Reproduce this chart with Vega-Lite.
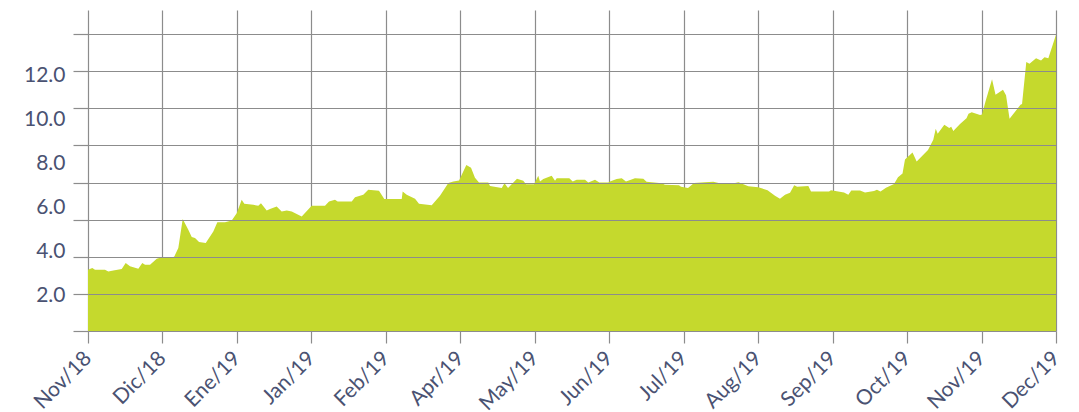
{
  "$schema": "https://vega.github.io/schema/vega-lite/v6.json",
  "width": 968,
  "height": 321,
  "autosize": {"type": "none"},
  "padding": {"left": 88, "top": 10, "right": 23, "bottom": 81},
  "background": "white",
  "config": {
    "view": {"stroke": null},
    "axis": {
      "labelFont": "Lato",
      "labelFontSize": 21,
      "labelColor": "#4a5272",
      "gridColor": "#8c8c8c",
      "gridWidth": 1.2,
      "gridOpacity": 1,
      "tickColor": "#8c8c8c",
      "tickWidth": 1.2,
      "domain": false,
      "title": null
    }
  },
  "data": {
    "values": [
      {"t": 0, "v": 3.19}, {"t": 0.058, "v": 3.26}, {"t": 0.094, "v": 3.19}, {"t": 0.228, "v": 3.19},
      {"t": 0.273, "v": 3.11}, {"t": 0.34, "v": 3.15}, {"t": 0.453, "v": 3.22}, {"t": 0.506, "v": 3.49},
      {"t": 0.564, "v": 3.34}, {"t": 0.676, "v": 3.23}, {"t": 0.729, "v": 3.49}, {"t": 0.766, "v": 3.41},
      {"t": 0.833, "v": 3.41}, {"t": 0.923, "v": 3.69}, {"t": 0.99, "v": 3.76}, {"t": 1.124, "v": 3.72},
      {"t": 1.159, "v": 3.79}, {"t": 1.213, "v": 4.17}, {"t": 1.272, "v": 5.49}, {"t": 1.347, "v": 5.0},
      {"t": 1.393, "v": 4.67}, {"t": 1.437, "v": 4.63}, {"t": 1.491, "v": 4.45}, {"t": 1.581, "v": 4.4},
      {"t": 1.683, "v": 4.93}, {"t": 1.737, "v": 5.35}, {"t": 1.84, "v": 5.35}, {"t": 1.93, "v": 5.43},
      {"t": 1.997, "v": 5.76}, {"t": 2.064, "v": 6.37}, {"t": 2.099, "v": 6.19}, {"t": 2.22, "v": 6.14},
      {"t": 2.287, "v": 6.1}, {"t": 2.323, "v": 6.21}, {"t": 2.4, "v": 5.88}, {"t": 2.444, "v": 5.95},
      {"t": 2.534, "v": 6.06}, {"t": 2.601, "v": 5.84}, {"t": 2.669, "v": 5.88}, {"t": 2.736, "v": 5.84},
      {"t": 2.87, "v": 5.61}, {"t": 3.004, "v": 6.1}, {"t": 3.183, "v": 6.1}, {"t": 3.237, "v": 6.29},
      {"t": 3.317, "v": 6.37}, {"t": 3.353, "v": 6.29}, {"t": 3.542, "v": 6.29}, {"t": 3.586, "v": 6.48},
      {"t": 3.697, "v": 6.6}, {"t": 3.764, "v": 6.82}, {"t": 3.908, "v": 6.78}, {"t": 3.979, "v": 6.4},
      {"t": 4.213, "v": 6.4}, {"t": 4.226, "v": 6.75}, {"t": 4.28, "v": 6.6}, {"t": 4.392, "v": 6.42},
      {"t": 4.445, "v": 6.19}, {"t": 4.616, "v": 6.12}, {"t": 4.727, "v": 6.55}, {"t": 4.839, "v": 7.13},
      {"t": 4.906, "v": 7.2}, {"t": 4.983, "v": 7.25}, {"t": 5.081, "v": 7.95}, {"t": 5.144, "v": 7.82},
      {"t": 5.197, "v": 7.37}, {"t": 5.251, "v": 7.15}, {"t": 5.376, "v": 7.15}, {"t": 5.399, "v": 7.0},
      {"t": 5.556, "v": 6.9}, {"t": 5.594, "v": 7.12}, {"t": 5.641, "v": 6.9}, {"t": 5.761, "v": 7.32},
      {"t": 5.846, "v": 7.23}, {"t": 5.882, "v": 7.08}, {"t": 5.99, "v": 7.08}, {"t": 6.047, "v": 7.46},
      {"t": 6.07, "v": 7.2}, {"t": 6.115, "v": 7.31}, {"t": 6.227, "v": 7.46}, {"t": 6.272, "v": 7.23},
      {"t": 6.295, "v": 7.35}, {"t": 6.464, "v": 7.35}, {"t": 6.51, "v": 7.2}, {"t": 6.563, "v": 7.28},
      {"t": 6.675, "v": 7.28}, {"t": 6.719, "v": 7.15}, {"t": 6.809, "v": 7.28}, {"t": 6.867, "v": 7.15},
      {"t": 6.988, "v": 7.15}, {"t": 7.01, "v": 7.2}, {"t": 7.1, "v": 7.31}, {"t": 7.168, "v": 7.35},
      {"t": 7.225, "v": 7.2}, {"t": 7.346, "v": 7.35}, {"t": 7.458, "v": 7.32}, {"t": 7.501, "v": 7.19},
      {"t": 7.705, "v": 7.12}, {"t": 7.749, "v": 7.05}, {"t": 7.937, "v": 7.03}, {"t": 7.964, "v": 6.96},
      {"t": 8.058, "v": 6.9}, {"t": 8.139, "v": 7.13}, {"t": 8.286, "v": 7.17}, {"t": 8.398, "v": 7.19},
      {"t": 8.511, "v": 7.1}, {"t": 8.645, "v": 7.1}, {"t": 8.736, "v": 7.17}, {"t": 8.868, "v": 6.98},
      {"t": 9.002, "v": 6.94}, {"t": 9.126, "v": 6.8}, {"t": 9.226, "v": 6.55}, {"t": 9.293, "v": 6.42},
      {"t": 9.361, "v": 6.6}, {"t": 9.428, "v": 6.69}, {"t": 9.484, "v": 7.03}, {"t": 9.524, "v": 6.96},
      {"t": 9.674, "v": 6.99}, {"t": 9.71, "v": 6.75}, {"t": 9.952, "v": 6.75}, {"t": 9.978, "v": 6.8},
      {"t": 10.153, "v": 6.7}, {"t": 10.211, "v": 6.6}, {"t": 10.251, "v": 6.79}, {"t": 10.368, "v": 6.79},
      {"t": 10.435, "v": 6.7}, {"t": 10.556, "v": 6.77}, {"t": 10.596, "v": 6.82}, {"t": 10.643, "v": 6.75},
      {"t": 10.717, "v": 6.92}, {"t": 10.825, "v": 7.09}, {"t": 10.878, "v": 7.39}, {"t": 10.939, "v": 7.56},
      {"t": 10.972, "v": 8.2}, {"t": 11.073, "v": 8.52}, {"t": 11.129, "v": 8.11}, {"t": 11.281, "v": 8.63},
      {"t": 11.352, "v": 9.1}, {"t": 11.385, "v": 9.6}, {"t": 11.411, "v": 9.37}, {"t": 11.5, "v": 9.78},
      {"t": 11.566, "v": 9.63}, {"t": 11.593, "v": 9.69}, {"t": 11.621, "v": 9.5}, {"t": 11.711, "v": 9.81},
      {"t": 11.798, "v": 10.08}, {"t": 11.825, "v": 10.28}, {"t": 11.868, "v": 10.35}, {"t": 11.98, "v": 10.23},
      {"t": 12.006, "v": 10.25}, {"t": 12.053, "v": 10.84}, {"t": 12.141, "v": 11.85}, {"t": 12.188, "v": 11.14},
      {"t": 12.288, "v": 11.37}, {"t": 12.329, "v": 11.12}, {"t": 12.376, "v": 10.05}, {"t": 12.523, "v": 10.69},
      {"t": 12.544, "v": 10.72}, {"t": 12.601, "v": 12.64}, {"t": 12.644, "v": 12.55}, {"t": 12.732, "v": 12.81},
      {"t": 12.799, "v": 12.7}, {"t": 12.846, "v": 12.85}, {"t": 12.897, "v": 12.81}, {"t": 13.0, "v": 13.87}
    ]
  },
  "encoding": {
    "x": {
      "field": "t",
      "type": "quantitative",
      "scale": {"domain": [0, 13], "nice": false, "zero": false},
      "axis": {
        "values": [0, 1, 2, 3, 4, 5, 6, 7, 8, 9, 10, 11, 12, 13],
        "labelExpr": "['Nov/18','Dic/18','Ene/19','Jan/19','Feb/19','Apr/19','May/19','Jun/19','Jul/19','Aug/19','Sep/19','Oct/19','Nov/19','Dec/19'][datum.value]",
        "grid": true,
        "ticks": true,
        "tickSize": 12,
        "labelAngle": -45,
        "labelAlign": "right",
        "labelBaseline": "middle",
        "labelPadding": 12,
        "labelFontSize": 21,
        "labelOverlap": false,
        "labelBound": false,
        "labelFlush": false
      }
    }
  },
  "layer": [
    {
      "mark": {"type": "area", "color": "#c5d92d", "clip": true, "interpolate": "linear"},
      "encoding": {
        "y": {
          "field": "v",
          "type": "quantitative",
          "scale": {"domain": [0.4, 15.0], "nice": false, "zero": false},
          "axis": {
            "orient": "left",
            "values": [0.4, 2.0875, 3.775, 5.4625, 7.15, 8.8375, 10.525, 12.2125, 13.9],
            "grid": true,
            "ticks": true,
            "tickSize": 15,
            "labels": false,
            "zindex": 1
          }
        }
      }
    },
    {
      "mark": {"type": "line", "opacity": 0, "clip": true},
      "encoding": {
        "y": {
          "field": "v",
          "type": "quantitative",
          "axis": {
            "orient": "left",
            "values": [2, 4, 6, 8, 10, 12],
            "format": ".1f",
            "grid": false,
            "ticks": false,
            "labelPadding": 23,
            "labelFontSize": 21,
            "labelBaseline": "middle"
          }
        }
      }
    }
  ],
  "resolve": {"axis": {"y": "independent"}}
}
